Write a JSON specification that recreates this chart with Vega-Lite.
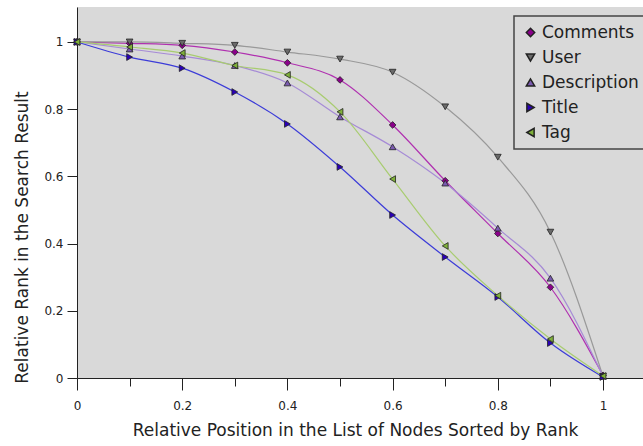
{
  "$schema": "https://vega.github.io/schema/vega-lite/v6.json",
  "width": 566,
  "height": 371,
  "autosize": {"type": "none"},
  "padding": {"left": 77, "top": 7, "right": 0, "bottom": 68},
  "background": "white",
  "config": {
    "view": {"fill": "#d9d9d9", "stroke": null},
    "font": "DejaVu Sans",
    "axis": {"domainColor": "#222", "tickColor": "#222", "labelColor": "#222", "titleColor": "#222", "grid": false, "labelFont": "DejaVu Sans", "titleFont": "DejaVu Sans", "titleFontWeight": "normal"},
    "legend": {
      "orient": "none", "legendX": 437, "legendY": 9, "fillColor": "#d9d9d9", "strokeColor": "#444", "strokeWidth": 1.5, "padding": 8,
      "labelFontSize": 17, "labelFont": "DejaVu Sans", "labelColor": "#222",
      "symbolSize": 70, "rowPadding": 7, "labelOffset": 3
    }
  },
  "data": {
    "values": [
      {"x": 0, "y": 1, "s": "Comments"}, {"x": 0.1, "y": 0.996, "s": "Comments"}, {"x": 0.2, "y": 0.99, "s": "Comments"}, {"x": 0.3, "y": 0.97, "s": "Comments"}, {"x": 0.4, "y": 0.938, "s": "Comments"}, {"x": 0.5, "y": 0.887, "s": "Comments"}, {"x": 0.6, "y": 0.753, "s": "Comments"}, {"x": 0.7, "y": 0.587, "s": "Comments"}, {"x": 0.8, "y": 0.43, "s": "Comments"}, {"x": 0.9, "y": 0.27, "s": "Comments"}, {"x": 1, "y": 0.008, "s": "Comments"},
      {"x": 0, "y": 1, "s": "User"}, {"x": 0.1, "y": 1.0, "s": "User"}, {"x": 0.2, "y": 0.996, "s": "User"}, {"x": 0.3, "y": 0.99, "s": "User"}, {"x": 0.4, "y": 0.97, "s": "User"}, {"x": 0.5, "y": 0.949, "s": "User"}, {"x": 0.6, "y": 0.91, "s": "User"}, {"x": 0.7, "y": 0.807, "s": "User"}, {"x": 0.8, "y": 0.657, "s": "User"}, {"x": 0.9, "y": 0.434, "s": "User"}, {"x": 1, "y": 0.005, "s": "User"},
      {"x": 0, "y": 1, "s": "Description"}, {"x": 0.1, "y": 0.979, "s": "Description"}, {"x": 0.2, "y": 0.958, "s": "Description"}, {"x": 0.3, "y": 0.93, "s": "Description"}, {"x": 0.4, "y": 0.878, "s": "Description"}, {"x": 0.5, "y": 0.777, "s": "Description"}, {"x": 0.6, "y": 0.688, "s": "Description"}, {"x": 0.7, "y": 0.58, "s": "Description"}, {"x": 0.8, "y": 0.446, "s": "Description"}, {"x": 0.9, "y": 0.297, "s": "Description"}, {"x": 1, "y": 0.005, "s": "Description"},
      {"x": 0, "y": 1, "s": "Title"}, {"x": 0.1, "y": 0.955, "s": "Title"}, {"x": 0.2, "y": 0.922, "s": "Title"}, {"x": 0.3, "y": 0.851, "s": "Title"}, {"x": 0.4, "y": 0.756, "s": "Title"}, {"x": 0.5, "y": 0.628, "s": "Title"}, {"x": 0.6, "y": 0.485, "s": "Title"}, {"x": 0.7, "y": 0.36, "s": "Title"}, {"x": 0.8, "y": 0.241, "s": "Title"}, {"x": 0.9, "y": 0.104, "s": "Title"}, {"x": 1, "y": 0.003, "s": "Title"},
      {"x": 0, "y": 1, "s": "Tag"}, {"x": 0.1, "y": 0.985, "s": "Tag"}, {"x": 0.2, "y": 0.967, "s": "Tag"}, {"x": 0.3, "y": 0.93, "s": "Tag"}, {"x": 0.4, "y": 0.902, "s": "Tag"}, {"x": 0.5, "y": 0.792, "s": "Tag"}, {"x": 0.6, "y": 0.592, "s": "Tag"}, {"x": 0.7, "y": 0.393, "s": "Tag"}, {"x": 0.8, "y": 0.245, "s": "Tag"}, {"x": 0.9, "y": 0.116, "s": "Tag"}, {"x": 1, "y": 0.006, "s": "Tag"}
    ]
  },
  "encoding": {
    "x": {
      "field": "x", "type": "quantitative",
      "scale": {"domain": [0, 1.076], "nice": false, "zero": false},
      "axis": {
        "title": "Relative Position in the List of Nodes Sorted by Rank",
        "values": [0, 0.1, 0.2, 0.3, 0.4, 0.5, 0.6, 0.7, 0.8, 0.9, 1],
        "format": ".1~f",
        "labelExpr": "round(datum.value * 10) % 2 == 0 ? datum.label : ''",
        "tickSize": {"condition": {"test": "round(datum.value * 10) % 2 == 0", "value": 12}, "value": 8},
        "labelPadding": 10,
        "labelFontSize": 12,
        "titleFontSize": 17,
        "titlePadding": 11,
        "titleX": 278,
        "labelFlush": false
      }
    },
    "y": {
      "field": "y", "type": "quantitative",
      "scale": {"domain": [0, 1.104], "nice": false, "zero": false},
      "axis": {
        "title": "Relative Rank in the Search Result",
        "values": [0, 0.2, 0.4, 0.6, 0.8, 1],
        "format": ".1~f",
        "tickSize": 10,
        "labelPadding": 4,
        "labelFontSize": 12,
        "titleFontSize": 17,
        "titlePadding": 12,
        "titleY": 230,
        "labelFlush": false
      }
    }
  },
  "layer": [
    {
      "mark": {"type": "line", "interpolate": "monotone", "strokeWidth": 1.2},
      "encoding": {
        "stroke": {
          "field": "s", "type": "nominal", "legend": null,
          "scale": {"domain": ["User", "Comments", "Description", "Title", "Tag"], "range": ["#999999", "#b030b0", "#a68bd6", "#3c3cd8", "#a8cc70"]}
        },
        "detail": {"field": "s"}
      }
    },
    {
      "mark": {"type": "point", "filled": true, "opacity": 1, "size": 45, "stroke": "#222", "strokeWidth": 0.8},
      "encoding": {
        "fill": {
          "field": "s", "type": "nominal", "title": null,
          "scale": {"domain": ["Comments", "User", "Description", "Title", "Tag"], "range": ["#8b008b", "#6a6a6a", "#7a5ab0", "#2a00b8", "#7fb03a"]},
          "legend": {"encode": {"symbols": {"update": {"stroke": {"value": "#222"}, "strokeWidth": {"value": 0.8}}}}}
        },
        "shape": {
          "field": "s", "type": "nominal", "title": null,
          "scale": {"domain": ["Comments", "User", "Description", "Title", "Tag"], "range": ["diamond", "triangle-down", "triangle-up", "triangle-right", "triangle-left"]},
          "legend": {"encode": {"symbols": {"update": {"stroke": {"value": "#222"}, "strokeWidth": {"value": 0.8}}}}}
        }
      }
    }
  ]
}
